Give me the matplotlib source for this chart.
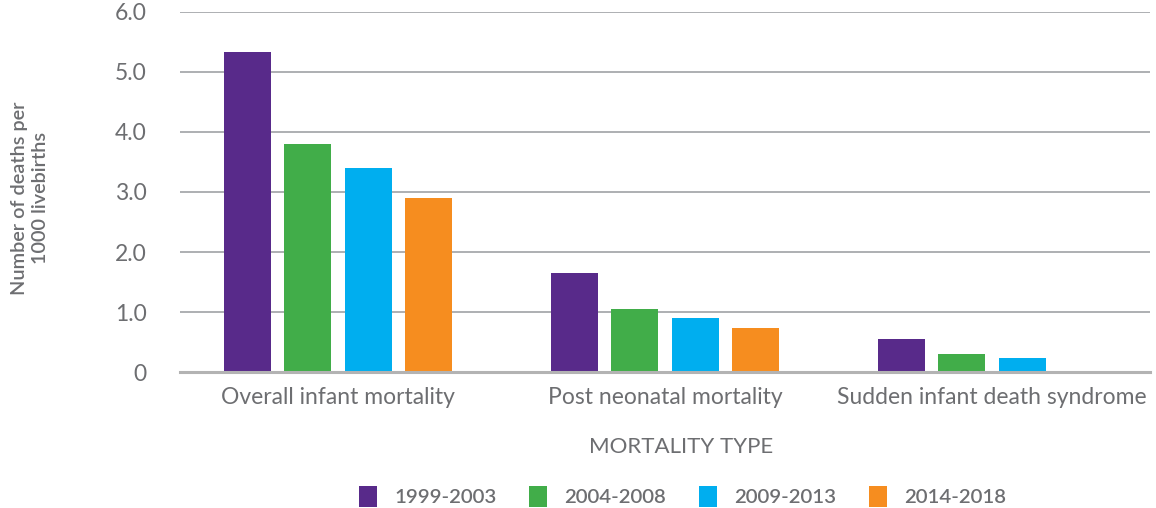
import numpy as np
import matplotlib.pyplot as plt

categories = ['Overall infant mortality', 'Post neonatal mortality', 'Sudden infant death syndrome']
periods = ['1999-2003', '2004-2008', '2009-2013', '2014-2018']
rates_1999_2003 = [5.33, 1.65, 0.55]
rates_2004_2008 = [3.80, 1.05, 0.30]
rates_2009_2013 = [3.40, 0.90, 0.23]
rates_2014_2018 = [2.90, 0.73, np.nan]
y_ticks = [0, 1, 2, 3, 4, 5, 6]
y_tick_labels = ['0', '1.0', '2.0', '3.0', '4.0', '5.0', '6.0']

colors = ['#582a8a', '#41ad49', '#00aeef', '#f68d1f']
text_grey = '#6d6e71'
grid_grey = '#a7a9ac'

plt.rcParams['font.family'] = ['Lato', 'DejaVu Sans']

fig = plt.figure(figsize=(11.56, 5.08), dpi=100)
ax = fig.add_axes([0.1557, 0.2677, 0.8391, 0.7087])

x = np.arange(len(categories))
width = 0.144
step = 0.185
series = [rates_1999_2003, rates_2004_2008, rates_2009_2013, rates_2014_2018]
for i, (vals, lab, col) in enumerate(zip(series, periods, colors)):
    ax.bar(x + (i - 1.5) * step, vals, width, color=col, label=lab, zorder=3)

ax.set_xlim(-0.483, 2.483)
ax.set_ylim(0, 6)
ax.set_yticks(y_ticks)
ax.set_yticklabels(y_tick_labels)
ax.set_xticks(x)
ax.set_xticklabels(categories)
ax.tick_params(axis='both', length=0, labelsize=16.5, labelcolor=text_grey)
ax.tick_params(axis='y', labelsize=16.5, pad=24)
ax.tick_params(axis='x', pad=11)

ax.yaxis.grid(True, color=grid_grey, linewidth=1.3, zorder=0)
ax.set_axisbelow(True)
for s in ['top', 'right', 'left']:
    ax.spines[s].set_visible(False)
ax.spines['bottom'].set_color('#b3b3b3')
ax.spines['bottom'].set_linewidth(2.2)
ax.spines['bottom'].set_zorder(4)

ax.set_xlabel('MORTALITY TYPE', fontsize=16, color=text_grey)
ax.xaxis.set_label_coords(0.5165, -0.18)
fig.text(0.026, 0.61, 'Number of deaths per\n1000 livebirths', rotation=90,
         ha='center', va='center', fontsize=14.3, fontweight='semibold',
         color=text_grey, linespacing=1.25)

handles, labels = ax.get_legend_handles_labels()
leg = fig.legend(handles, labels, loc='center', bbox_to_anchor=(0.5904, 0.023),
                 ncol=4, frameon=False, fontsize=14.7, handlelength=0.88,
                 handleheight=1.25, handletextpad=0.85, columnspacing=1.6)
for t in leg.get_texts():
    t.set_color(text_grey)
    t.set_fontweight('semibold')

fig.savefig('out.png', dpi=100)
